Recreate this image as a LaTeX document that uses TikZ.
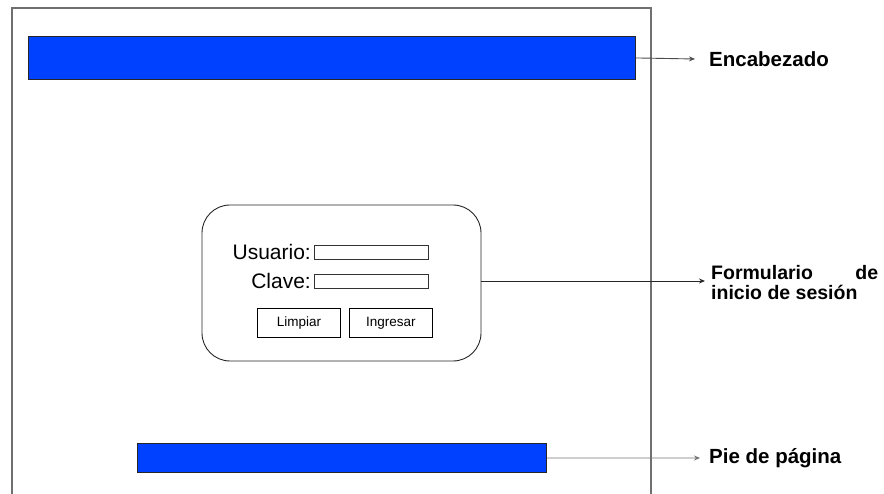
\documentclass[tikz,border=0pt]{standalone}
\usepackage{fontspec}
\setmainfont{Liberation Sans}
\usetikzlibrary{arrows.meta}
\definecolor{barblue}{HTML}{0040FF}
\definecolor{framegray}{HTML}{707070}
\tikzset{
  bar/.style={draw=black!85, line width=0.9pt, fill=barblue, inner sep=0pt},
  framebox/.style={draw=framegray, line width=1.3pt},
  pointer/.style={-{Stealth[length=6pt,width=5pt]}, line width=0.9pt},
  lbl/.style={font=\bfseries\fontsize{20.5}{20}\selectfont, inner sep=0pt, anchor=west},
  field/.style={draw=black!80, line width=0.6pt, inner sep=0pt, minimum width=114pt, minimum height=14pt},
  btn/.style={draw=black, line width=0.8pt, inner sep=0pt, minimum width=83pt, minimum height=29pt, font=\fontsize{13.5}{14}\selectfont},
  flabel/.style={font=\fontsize{21}{21}\selectfont, inner sep=0pt, anchor=east}
}
\begin{document}
\begin{tikzpicture}[x=1pt,y=-1pt]
\useasboundingbox (0,0) rectangle (884,494);
% page frame
\draw[framebox] (12,494) -- (12,8) -- (651,8) -- (651,494);
% header
\node[bar, minimum width=607pt, minimum height=43pt, anchor=north west] (head) at (28,36) {};
\node[lbl] (headlbl) at (709,59) {Encabezado};
\coordinate (headend) at (695,59);
\draw[pointer, draw=black!70] (head.east) -- (headend);
% form
\draw[line width=0.9pt, draw=black!85, rounded corners=28pt] (202,205) rectangle (481,361);
\coordinate (form) at (481,281);
\node[field, anchor=north west] (f1) at (314,245) {};
\node[field, anchor=north west] (f2) at (314,274) {};
\node[flabel] (u) at (311,252) {Usuario:};
\node[flabel] (c) at (311,281) {Clave:};
\node[btn, anchor=north west] (b1) at (257,308) {Limpiar};
\node[btn, anchor=north west] (b2) at (349,308) {Ingresar};
\coordinate (formend) at (705,281);
\draw[pointer, draw=black!85] (form) -- (formend);
\node[font=\bfseries\fontsize{19.5}{20}\selectfont, inner sep=0pt, anchor=north west, align=left] (formlbl) at (711,265)
  {\hbox to 167pt{Formulario\hfill de}\\inicio de sesión};
% footer
\node[bar, minimum width=409pt, minimum height=29pt, anchor=north west] (foot) at (137,443) {};
\coordinate (footend) at (700,458);
\draw[pointer, draw=black!55] (foot.east) -- (footend);
\node[lbl] (footlbl) at (709,458) {Pie de página};
\end{tikzpicture}
\end{document}
